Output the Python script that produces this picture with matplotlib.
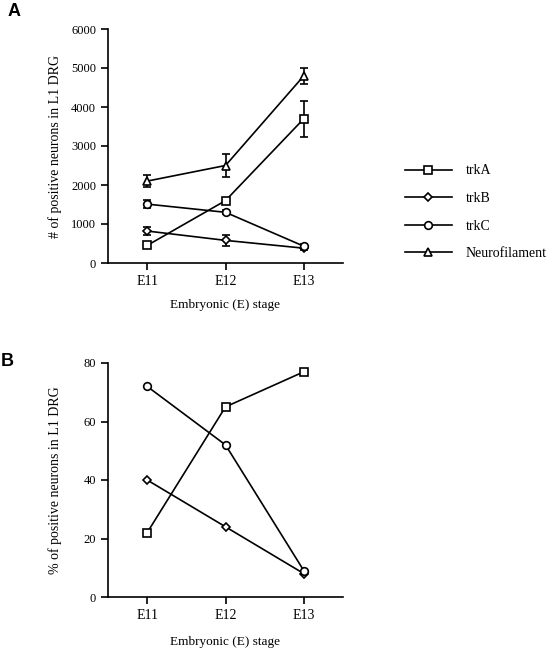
import matplotlib.pyplot as plt
from matplotlib.lines import Line2D

plt.rcParams['font.family'] = ['Liberation Serif', 'DejaVu Serif']

stages = ['E11', 'E12', 'E13']

# panel A: counts (mean, error)
trkA_n = [450, 1600, 3700]
trkA_err = [60, 60, 460]
trkB_n = [820, 580, 380]
trkB_err = [100, 140, 40]
trkC_n = [1510, 1300, 430]
trkC_err = [100, 50, 50]
nf_n = [2100, 2500, 4800]
nf_err = [150, 300, 200]

# panel B: percentages
trkA_pct = [22, 65, 77]
trkB_pct = [40, 24, 8]
trkC_pct = [72, 52, 9]

styles = {
    'trkA': dict(marker='s', ms=5.5),
    'trkB': dict(marker='D', ms=4),
    'trkC': dict(marker='o', ms=5.5),
    'Neurofilament': dict(marker='^', ms=5.5),
}
common = dict(color='black', mfc='white', mec='black', mew=1.2, lw=1.2)

fig = plt.figure(figsize=(5.48, 6.48), dpi=100)
axA = fig.add_axes([108/548, 1-263/648, 235/548, 234/648])
axB = fig.add_axes([108/548, 1-597/648, 235/548, 234/648])

x = range(len(stages))
series_a = [('trkA', trkA_n, trkA_err), ('trkB', trkB_n, trkB_err),
            ('trkC', trkC_n, trkC_err), ('Neurofilament', nf_n, nf_err)]
for name, vals, err in series_a:
    axA.errorbar(x, vals, yerr=err, capsize=2.6, elinewidth=1.2, capthick=1.2,
                 **styles[name], **common)

for name, vals in [('trkA', trkA_pct), ('trkB', trkB_pct), ('trkC', trkC_pct)]:
    axB.plot(x, vals, **styles[name], **common)

for ax in (axA, axB):
    ax.spines['top'].set_visible(False)
    ax.spines['right'].set_visible(False)
    ax.spines['left'].set_linewidth(1.2)
    ax.spines['bottom'].set_linewidth(1.2)
    ax.set_xlim(-0.5, 2.5)
    ax.set_xticks(list(x))
    ax.set_xticklabels(stages)
    ax.tick_params(direction='out', length=5, width=1.2, labelsize=9)
    ax.tick_params(axis='x', labelsize=10)

axA.set_ylim(0, 6000)
axA.set_yticks(range(0, 6001, 1000))
axA.set_ylabel('# of positive neurons in L1 DRG', fontsize=10)
axA.set_xlabel('Embryonic (E) stage', fontsize=9.5, labelpad=8)

axB.set_ylim(0, 80)
axB.set_yticks(range(0, 81, 20))
axB.set_ylabel('% of positive neurons in L1 DRG', fontsize=10)
axB.set_xlabel('Embryonic (E) stage', fontsize=9.5, labelpad=10)

for ax in (axA, axB):
    ax.yaxis.set_label_coords(-0.195, 0.5)

fig.text(8/548, 1-12/648, 'A', fontsize=13, fontweight='bold',
         family='Liberation Sans', va='center')
fig.text(1/548, 1-361/648, 'B', fontsize=13, fontweight='bold',
         family='Liberation Sans', va='center')

handles = [Line2D([], [], **styles[n], **common) for n in styles]
fig.legend(handles, list(styles), loc='upper left',
           bbox_to_anchor=(392/548, 1-152/648), frameon=False,
           fontsize=10, handlelength=3.4, labelspacing=1.05, handletextpad=1.0)

fig.savefig('out.png', dpi=100)
